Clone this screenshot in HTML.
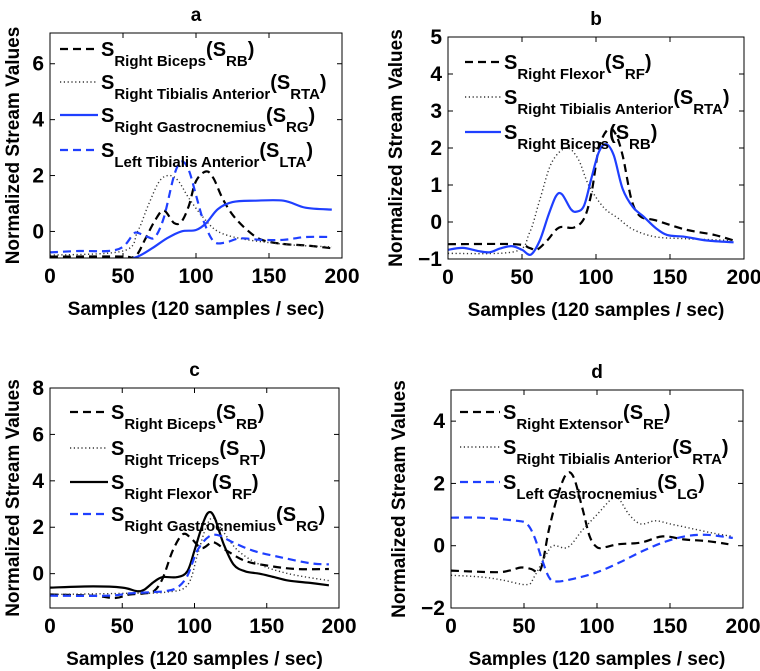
<!DOCTYPE html>
<html><head><meta charset="utf-8"><style>
html,body{margin:0;padding:0;background:#fff;}
svg{display:block;font-family:"Liberation Sans",Arial,sans-serif;font-weight:bold;}
</style></head><body>
<svg id="fig" width="760" height="671" viewBox="0 0 760 671" xmlns="http://www.w3.org/2000/svg"></svg>
<script>
// ---- data arrays ----
const aRB_x=[0,50,55,60,65,72,78,85,90,95,100,107,112,118,125,135,145,160,175,193];
const aRB_y=[-0.9,-0.9,-0.95,-0.8,-0.3,0.4,0.75,0.3,0.35,0.9,1.8,2.15,1.9,1.2,0.6,0.05,-0.3,-0.45,-0.5,-0.6];
const aRTA_x=[0,50,60,67,75,82,88,95,105,115,130,150,170,193];
const aRTA_y=[-0.85,-0.7,0,0.9,1.8,2.0,1.8,1.2,0.5,0,-0.25,-0.4,-0.5,-0.55];
const aRG_x=[0,20,50,60,70,80,90,100,107,115,125,140,160,175,193];
const aRG_y=[-1,-1,-1,-0.9,-0.6,-0.25,0,0.05,0.3,0.8,1.05,1.1,1.1,0.85,0.78];
const aLTA_x=[0,20,40,50,57,60,67,72,78,85,90,95,100,105,112,120,130,145,160,175,193];
const aLTA_y=[-0.75,-0.7,-0.7,-0.55,-0.1,-0.05,-0.2,-0.2,0.5,2.0,2.5,2.2,1.3,0.4,-0.35,-0.4,-0.25,-0.3,-0.3,-0.2,-0.2];

const bRF_x=[0,45,55,60,67,75,85,92,97,102,108,113,118,124,130,140,160,180,193];
const bRF_y=[-0.6,-0.6,-0.7,-0.75,-0.5,-0.15,-0.15,0.1,0.8,2.0,2.5,2.4,1.8,0.6,0.15,0.05,-0.2,-0.35,-0.5];
const bRTA_x=[0,45,55,62,70,80,88,95,105,115,125,140,160,193];
const bRTA_y=[-0.85,-0.8,-0.3,0.6,1.6,2.0,1.7,1.0,0.4,0.1,-0.2,-0.4,-0.45,-0.5];
const bRB_x=[0,10,20,28,35,43,50,56,62,68,73,77,83,87,92,97,102,107,112,118,125,132,140,148,160,175,193];
const bRB_y=[-0.75,-0.7,-0.78,-0.82,-0.72,-0.65,-0.75,-0.88,-0.5,0.2,0.7,0.75,0.35,0.28,0.45,1.2,1.9,2.1,1.8,0.9,0.4,0.15,-0.15,-0.35,-0.4,-0.5,-0.55];

const cRB_x=[0,30,45,55,65,72,78,85,92,98,105,113,122,135,150,170,193];
const cRB_y=[-0.9,-0.95,-1.05,-0.9,-0.85,-0.75,-0.2,1.0,1.7,1.5,1.1,1.35,1.0,0.55,0.35,0.2,0.2];
const cRT_x=[0,50,80,95,102,108,113,120,130,145,165,193];
const cRT_y=[-0.9,-0.85,-0.8,-0.5,0.8,2.0,2.4,1.8,1.0,0.4,0,-0.3];
const cRF_x=[0,30,50,60,65,72,78,88,95,100,106,110,114,120,127,135,145,155,165,180,193];
const cRF_y=[-0.6,-0.55,-0.6,-0.75,-0.7,-0.35,-0.15,-0.15,0.1,1.0,2.2,2.65,2.4,1.3,0.4,0.1,0.0,-0.15,-0.3,-0.4,-0.5];
const cRG_x=[0,40,55,70,80,88,95,102,110,117,125,140,160,180,193];
const cRG_y=[-0.95,-0.95,-0.85,-0.8,-0.75,-0.6,-0.1,1.0,1.6,1.65,1.4,1.0,0.7,0.45,0.4];

const dRE_x=[0,30,40,48,55,60,63,67,73,79,84,90,95,100,105,115,130,145,160,175,190];
const dRE_y=[-0.8,-0.85,-0.8,-0.7,-0.75,-0.85,-0.5,0.5,1.6,2.3,2.2,1.2,0.3,-0.05,-0.05,0.05,0.1,0.3,0.2,0.15,0.05];
const dRTA_x=[0,20,35,52,57,65,70,80,90,100,110,115,122,130,140,150,165,180,193];
const dRTA_y=[-0.95,-1.0,-1.1,-1.25,-1.0,-0.3,0,-0.05,0.5,1.0,1.5,1.5,1.0,0.7,0.8,0.7,0.55,0.4,0.3];
const dLG_x=[0,20,45,52,57,62,67,72,85,100,115,130,145,160,175,193];
const dLG_y=[0.9,0.9,0.8,0.7,0.3,-0.4,-1.0,-1.15,-1.05,-0.85,-0.55,-0.2,0.1,0.3,0.35,0.25];

const xTicks=[0,50,100,150,200];
const aTicks=[0,2,4,6], bTicks=[-1,0,1,2,3,4,5], cTicks=[0,2,4,6,8], dTicks=[-2,0,2,4];

const NS="http://www.w3.org/2000/svg";
const svg=document.getElementById('fig');
function mk(tag,attrs,parent){const e=document.createElementNS(NS,tag);for(const k in attrs)e.setAttribute(k,attrs[k]);(parent||svg).appendChild(e);return e;}

function smooth(pts){
  let d="M"+pts[0][0].toFixed(1)+","+pts[0][1].toFixed(1);
  for(let i=0;i<pts.length-1;i++){
    const p0=pts[Math.max(0,i-1)],p1=pts[i],p2=pts[i+1],p3=pts[Math.min(pts.length-1,i+2)];
    const c1=[p1[0]+(p2[0]-p0[0])/6,p1[1]+(p2[1]-p0[1])/6];
    const c2=[p2[0]-(p3[0]-p1[0])/6,p2[1]-(p3[1]-p1[1])/6];
    d+="C"+c1[0].toFixed(1)+","+c1[1].toFixed(1)+" "+c2[0].toFixed(1)+","+c2[1].toFixed(1)+" "+p2[0].toFixed(1)+","+p2[1].toFixed(1);
  }
  return d;
}
const STY={dash:{c:"#000",da:"8,5",w:2.2},dot:{c:"#333",da:"1.2,2.6",w:1.4},blue:{c:"#1f3fff",da:"",w:2.2},bdash:{c:"#1f3fff",da:"8,5",w:2.2},black:{c:"#000",da:"",w:2.2}};

function panel(p){
  const g=mk('g',{});
  
  
  const X=v=>p.L+(v-0)/(200)*(p.R-p.L);
  const Y=v=>p.B-(v-p.ymin)/(p.ymax-p.ymin)*(p.B-p.T);
  const cid='clip'+p.id;
  const cp=mk('clipPath',{id:cid},g);mk('rect',{x:p.L,y:p.T,width:p.R-p.L,height:p.B-p.T},cp);
  p.series.forEach(s=>{
    const st=STY[s.style];
    const pts=s.x.map((xv,i)=>[X(xv),Y(s.y[i])]);
    const path=mk('path',{d:smooth(pts),fill:"none",stroke:st.c,"stroke-width":st.w,"stroke-dasharray":st.da,"clip-path":"url(#"+cid+")"},g);
    
    
  });
  const box=mk('rect',{x:p.L,y:p.T,width:p.R-p.L,height:p.B-p.T,fill:"none",stroke:"#000","stroke-width":1},g);
  
  
  xTicks.forEach(t=>{
    const x=X(t);
    mk('line',{x1:x,x2:x,y1:p.B,y2:p.B-5,stroke:"#000"},g);
    mk('line',{x1:x,x2:x,y1:p.T,y2:p.T+5,stroke:"#000"},g);
    const tl=mk('text',{x:x,y:p.B+25,"text-anchor":"middle","font-size":21},g);
    tl.textContent=t;
    
    
  });
  p.yt.forEach(t=>{
    const y=Y(t);
    mk('line',{x1:p.L,x2:p.L+5,y1:y,y2:y,stroke:"#000"},g);
    mk('line',{x1:p.R,x2:p.R-5,y1:y,y2:y,stroke:"#000"},g);
    const tl=mk('text',{x:p.L-6,y:y+7,"text-anchor":"end","font-size":21},g);
    tl.textContent=(t<0?"\u2212"+(-t):t);
    
    
  });
  const ti=mk('text',{x:(p.L+p.R)/2,y:p.T-12,"text-anchor":"middle","font-size":19},g);
  ti.textContent=p.id;
  
  
  const xl=mk('text',{x:(p.L+p.R)/2,y:p.B+57,"text-anchor":"middle","font-size":19},g);
  xl.textContent="Samples (120 samples / sec)";
  
  
  const yc=(p.T+p.B)/2;
  const yl=mk('text',{x:p.yx,y:yc,"text-anchor":"middle","font-size":19,transform:"rotate(-90 "+p.yx+" "+yc+")"},g);
  yl.textContent="Normalized Stream Values";
  
  
  p.series.forEach((s,i)=>{
    const st=STY[s.style];
    const ly=p.leg.rows[i];
    const lg=mk('g',{},g);
    
    
    mk('line',{x1:p.leg.x1,x2:p.leg.x2,y1:ly,y2:ly,stroke:st.c,"stroke-width":st.w,"stroke-dasharray":st.da},lg);
    const t=mk('text',{x:p.leg.x2+3,y:ly+7,"font-size":20},lg);
    const parts=[["S",0,20],[s.name,1,15],["(S",0,20],[s.abbr,1,15],[")",0,20]];
    let prevSub=0;
    parts.forEach(pt=>{
      const ts=mk('tspan',{"font-size":pt[2]},t);
      const dy=(pt[1]?10:0)-prevSub;
      if(dy)ts.setAttribute('dy',dy);
      prevSub=pt[1]?10:0;
      ts.textContent=pt[0];
    });
  });
}

panel({id:"a",L:50,R:342,T:33,B:258,ymin:-0.95,ymax:7.1,yt:aTicks,yx:19,
  leg:{x1:60,x2:98,rows:[49,82,115,150]},
  series:[{key:"rb",style:"dash",x:aRB_x,y:aRB_y,name:"Right Biceps",abbr:"RB"},
          {key:"rta",style:"dot",x:aRTA_x,y:aRTA_y,name:"Right Tibialis Anterior",abbr:"RTA"},
          {key:"rg",style:"blue",x:aRG_x,y:aRG_y,name:"Right Gastrocnemius",abbr:"RG"},
          {key:"lta",style:"bdash",x:aLTA_x,y:aLTA_y,name:"Left Tibialis Anterior",abbr:"LTA"}]});
panel({id:"b",L:448,R:744,T:37,B:259,ymin:-1,ymax:5,yt:bTicks,yx:402,
  leg:{x1:465,x2:501,rows:[62,97,132]},
  series:[{key:"rf",style:"dash",x:bRF_x,y:bRF_y,name:"Right Flexor",abbr:"RF"},
          {key:"rta",style:"dot",x:bRTA_x,y:bRTA_y,name:"Right Tibialis Anterior",abbr:"RTA"},
          {key:"rb",style:"blue",x:bRB_x,y:bRB_y,name:"Right Biceps",abbr:"RB"}]});
panel({id:"c",L:50,R:339,T:388,B:608,ymin:-1.48,ymax:8,yt:cTicks,yx:19,
  leg:{x1:70,x2:108,rows:[412,448,482,514]},
  series:[{key:"rb",style:"dash",x:cRB_x,y:cRB_y,name:"Right Biceps",abbr:"RB"},
          {key:"rt",style:"dot",x:cRT_x,y:cRT_y,name:"Right Triceps",abbr:"RT"},
          {key:"rf",style:"black",x:cRF_x,y:cRF_y,name:"Right Flexor",abbr:"RF"},
          {key:"rg",style:"bdash",x:cRG_x,y:cRG_y,name:"Right Gastrocnemius",abbr:"RG"}]});
panel({id:"d",L:451,R:743,T:390,B:608,ymin:-2,ymax:5,yt:dTicks,yx:405,
  leg:{x1:460,x2:500,rows:[412,447,482]},
  series:[{key:"re",style:"dash",x:dRE_x,y:dRE_y,name:"Right Extensor",abbr:"RE"},
          {key:"rta",style:"dot",x:dRTA_x,y:dRTA_y,name:"Right Tibialis Anterior",abbr:"RTA"},
          {key:"lg",style:"bdash",x:dLG_x,y:dLG_y,name:"Left Gastrocnemius",abbr:"LG"}]});
</script>
</body></html>
